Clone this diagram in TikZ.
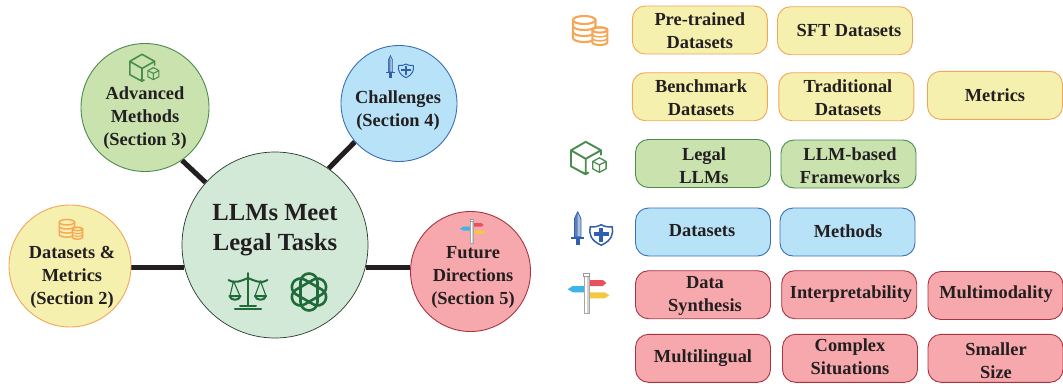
\documentclass[tikz,border=0pt]{standalone}
\usepackage{fontspec}
\setmainfont{Liberation Serif}
\usetikzlibrary{backgrounds}
\definecolor{yfill}{HTML}{F5F0AE}\definecolor{ydraw}{HTML}{F2A65A}
\definecolor{gfill}{HTML}{C9E2AE}\definecolor{gdraw}{HTML}{4A8B4E}
\definecolor{bfill}{HTML}{B8E2F8}\definecolor{bdraw}{HTML}{3A6EB5}
\definecolor{pfill}{HTML}{F7A8AC}\definecolor{pdraw}{HTML}{A83440}
\definecolor{mfill}{HTML}{D3E9D7}\definecolor{mdraw}{HTML}{24382B}
\definecolor{ink}{HTML}{231F20}\definecolor{dgreen}{HTML}{1F6B3A}
\definecolor{swblue}{HTML}{2F5FAE}\definecolor{dbor}{HTML}{F5A755}
\definecolor{sred}{HTML}{E8505B}\definecolor{sblue}{HTML}{3FB4E8}\definecolor{syel}{HTML}{F5C842}
\tikzset{
  x=1pt,y=-1pt,
  rbox/.style={rounded corners=13pt,minimum width=135pt,minimum height=48pt,inner sep=0pt,line width=0.9pt},
  yb/.style={rbox,fill=yfill,draw=ydraw},
  gb/.style={rbox,fill=gfill,draw=gdraw},
  bb/.style={rbox,fill=bfill,draw=bdraw},
  pb/.style={rbox,fill=pfill,draw=pdraw},
  circ/.style={circle,inner sep=0pt,line width=0.9pt},
  lbl/.style={align=center,inner sep=0pt,text=ink,font=\fontsize{18.4}{23}\selectfont\bfseries},
  mainlbl/.style={lbl,font=\fontsize{24.6}{30}\selectfont\bfseries},
  link/.style={line width=5pt,draw=ink},
}
% icons: #1 x, #2 y, #3 scale, #4 background colour
\newcommand\dbicon[4]{\begin{scope}[shift={(#1,#2)},scale=#3,line width=#3*2.1pt,draw=dbor]
  \draw (-18.8,-10) -- (-18.8,8) arc[start angle=180,end angle=0,x radius=11.3,y radius=4] -- (3.8,-10);
  \draw (-7.5,-10) ellipse[x radius=11.3,y radius=4];
  \draw (-18.8,-4) arc[start angle=180,end angle=0,x radius=11.3,y radius=4];
  \draw (-18.8,2) arc[start angle=180,end angle=0,x radius=11.3,y radius=4];
  \draw[fill=#4] (0.6,0) -- (0.6,12.4) arc[start angle=180,end angle=0,x radius=7.5,y radius=2.6] -- (15.6,0) arc[start angle=0,end angle=-180,x radius=7.5,y radius=2.6];
  \draw (8.1,0) ellipse[x radius=7.5,y radius=2.6];
  \draw[line width=#3*1.5pt] (0.6,4.2) arc[start angle=180,end angle=0,x radius=7.5,y radius=2.6];
  \draw[line width=#3*1.5pt] (0.6,8.3) arc[start angle=180,end angle=0,x radius=7.5,y radius=2.6];
\end{scope}}
\newcommand\cubeicon[3]{\begin{scope}[shift={(#1,#2)},scale=#3,draw=gdraw,line join=round]
  \draw[line width=#3*1.9pt] (0,16) -- (-14.7,8) -- (-14.7,-8) -- (0,-16.5) -- (15.3,-8) -- (0,0.5) -- (-14.7,-8) (0,0.5) -- (0,16) (15.3,-8) -- (15.3,-3) (-3,14) -- (0,16) -- (3,14);
  \begin{scope}[line width=#3*1.3pt]
  \draw (13.7,-0.5) -- (20.4,3.2) -- (20.4,10.5) -- (13.7,14) -- (7,10.5) -- (7,3.2) -- cycle;
  \draw (7,3.2) -- (13.7,6.5) -- (20.4,3.2) (13.7,6.5) -- (13.7,14);
  \end{scope}
\end{scope}}
\newcommand\swordicon[3]{\begin{scope}[shift={(#1,#2)},scale=#3]
  \fill[swblue!40] (-14,-17) -- (-10.7,-10) -- (-10.7,8) -- (-17.3,8) -- (-17.3,-10) -- cycle;
  \fill[swblue!80] (-14,-17) -- (-14,8) -- (-17.3,8) -- (-17.3,-10) -- cycle;
  \draw[swblue,line width=#3*0.8pt,line join=round] (-14,-17) -- (-10.7,-10) -- (-10.7,8) -- (-17.3,8) -- (-17.3,-10) -- cycle;
  \fill[swblue] (-20.7,8) rectangle (-7.3,10);
  \fill[swblue] (-16.2,10) rectangle (-11.8,16.7);
  \draw[swblue,line width=#3*1.5pt,line join=round] (-1.5,-2) .. controls (3,-1.5) and (6,-2) .. (9.5,-4) .. controls (13,-2) and (16,-1.5) .. (20.5,-2) .. controls (22,5) and (20,12) .. (9.5,16.5) .. controls (-1,12) and (-3,5) .. (-1.5,-2) -- cycle;
  \fill[swblue] (7.5,-0.5) rectangle (11.5,13);
  \fill[swblue] (2,3) rectangle (17,7);
\end{scope}}
\newcommand\signicon[3]{\begin{scope}[shift={(#1,#2)},scale=#3]
  \fill[sred] (2.5,-13) -- (16,-13) -- (19.7,-10) -- (16,-7) -- (2.5,-7) -- cycle;
  \fill[sblue] (-2.5,-7) -- (-14,-7) -- (-19,-3.8) -- (-14,-0.7) -- (-2.5,-0.7) -- cycle;
  \fill[syel] (2.5,-0.7) -- (18,-0.7) -- (22.7,2.3) -- (18,5.3) -- (2.5,5.3) -- cycle;
  \filldraw[fill=white,draw=gray!70,line width=#3*0.9pt] (-2.3,-18) rectangle (2.3,20);
  \fill[gray!35] (0.6,-17) rectangle (2.3,20);
  \filldraw[fill=white,draw=gray!80,line width=#3*0.9pt] (-2.8,-19.5) rectangle (2.8,-16.5);
\end{scope}}
\begin{document}
\begin{tikzpicture}
\useasboundingbox (0,0) rectangle (1063,383);
% circles
\node[circ,minimum size=186pt,fill=mfill,draw=mdraw,line width=0.7pt] (main) at (275,245) {};
\node[circ,minimum size=128pt,fill=gfill,draw=gdraw] (adv) at (145,107.5) {};
\node[circ,minimum size=116pt,fill=bfill,draw=bdraw] (chal) at (399,103.5) {};
\node[circ,minimum size=120pt,fill=pfill,draw=pdraw] (fut) at (470.5,271.5) {};
\node[circ,minimum size=122pt,fill=yfill,draw=ydraw] (data) at (70,266) {};
% connectors
\begin{scope}[on background layer]
\draw[link] (adv.-55.6) -- (main.138.3);
\draw[link] (chal.221) -- (main.55.8);
\draw[link] (data.east |- main.194.1) -- (main.194.1);
\draw[link] (fut.west |- main.-14.1) -- (main.-14.1);
\end{scope}
% circle labels
\node[mainlbl] (tmain) at (275,230.5) {LLMs Meet\\Legal Tasks};
\node[lbl] (tadv) at (145,118) {Advanced\\Methods\\(Section 3)};
\node[lbl] (tchal) at (398,110.5) {Challenges\\(Section 4)};
\node[lbl] (tfut) at (473,277) {Future\\Directions\\(Section 5)};
\node[lbl] (tdata) at (72,277) {Datasets \&\\Metrics\\(Section 2)};
% scale icon
\begin{scope}[draw=dgreen,line width=2pt,line cap=round,line join=round]
\draw (248,273) -- (248,306);
\draw (228.5,280) .. controls (235,284) and (241,281) .. (248,278) .. controls (255,281) and (261,284) .. (267.5,280);
\draw[line width=1.1pt] (233.5,281) -- (230,296) (233.5,281) -- (240,296) (260.5,281) -- (255,296) (260.5,281) -- (266,296);
\draw (229.5,296) .. controls (230.5,301) and (239.5,301) .. (240.5,296) -- cycle;
\draw (255,296) .. controls (256,301) and (265,301) .. (266,296) -- cycle;
\draw (240,306) -- (256,306);
\draw[line width=2.4pt] (235,309) -- (261,309);
\end{scope}
% knot icon
\begin{scope}[shift={(309,292)},line cap=round]
\foreach \a in {0,60,...,300}
  \draw[dgreen,line width=2.6pt,rotate=\a] (-8.5,7) -- (-8.5,-10) arc[start angle=180,end angle=360,radius=8.5] -- (8.5,-4);
\end{scope}
% circle icons
\dbicon{72}{229}{0.68}{yfill}
\cubeicon{142}{68}{0.83}
\swordicon{399.7}{66.7}{0.66}
\signicon{471.7}{231}{0.61}
% legend icons
\dbicon{591.7}{30}{1}{white}
\cubeicon{585.7}{158.3}{1}
\swordicon{591.7}{228.7}{1}
\signicon{586.7}{293}{1}
% boxes
\node[yb] (b1) at (699.8,30) {}; \node[lbl] (t1) at (699.8,30.5) {Pre-trained\\Datasets};
\node[yb] (b2) at (845,30.7) {}; \node[lbl] (t2) at (849,30) {SFT Datasets};
\node[yb] (b3) at (699.8,96.7) {}; \node[lbl] (t3) at (701,97.5) {Benchmark\\Datasets};
\node[yb] (b4) at (846.3,96.7) {}; \node[lbl] (t4) at (848,97.5) {Traditional\\Datasets};
\node[yb] (b5) at (995,95.3) {}; \node[lbl] (t5) at (995,95.5) {Metrics};
\node[gb] (b6) at (703,163.5) {}; \node[lbl] (t6) at (704,165.5) {Legal\\LLMs};
\node[gb] (b7) at (848.5,164) {}; \node[lbl] (t7) at (850,165.5) {LLM-based\\Frameworks};
\node[bb] (b8) at (703,232) {}; \node[lbl] (t8) at (702,231) {Datasets};
\node[bb] (b9) at (847.5,232) {}; \node[lbl] (t9) at (848,231) {Methods};
\node[pb] (b10) at (703,294.7) {}; \node[lbl] (t10) at (705,295.5) {Data\\Synthesis};
\node[pb] (b11) at (849.2,294.7) {}; \node[lbl] (t11) at (851,294.5) {Interpretability};
\node[pb] (b12) at (995.5,295.5) {}; \node[lbl] (t12) at (996,294.5) {Multimodality};
\node[pb] (b13) at (703,358.3) {}; \node[lbl] (t13) at (703,358.5) {Multilingual};
\node[pb] (b14) at (850,358.3) {}; \node[lbl] (t14) at (850,357) {Complex\\Situations};
\node[pb] (b15) at (995.5,358.3) {}; \node[lbl] (t15) at (996,361) {Smaller\\Size};
\end{tikzpicture}
\end{document}
